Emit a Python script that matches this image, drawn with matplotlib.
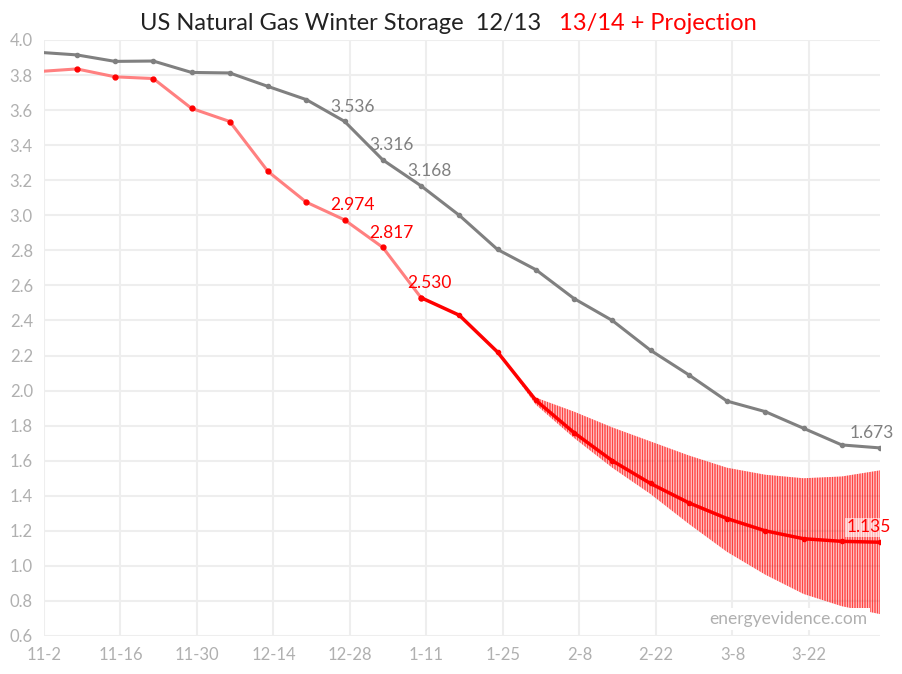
import numpy as np
import pandas as pd
import matplotlib
matplotlib.use("Agg")
import matplotlib.pyplot as plt

plt.rcParams['font.family'] = ['Lato', 'DejaVu Sans']
plt.rcParams['hatch.linewidth'] = 0.5

weeks = pd.date_range('2013-11-01', '2014-04-04', freq='7D')

prev_year = [3.93, 3.915, 3.878, 3.880, 3.815, 3.812, 3.735, 3.66, 3.536, 3.316, 3.168,
             3.00, 2.805, 2.69, 2.525, 2.40, 2.23, 2.09, 1.94, 1.88, 1.785, 1.69, 1.673]
actual = [3.82, 3.835, 3.79, 3.78, 3.61, 3.535, 3.25, 3.075, 2.974, 2.817, 2.530, 2.43]
projection = [2.43, 2.22, 1.945, 1.76, 1.60, 1.47, 1.36, 1.27, 1.20, 1.155, 1.14, 1.135]
band_upper = [2.22, 1.96, 1.88, 1.79, 1.71, 1.63, 1.56, 1.52, 1.50, 1.51, 1.545]
band_lower = [2.22, 1.92, 1.73, 1.56, 1.41, 1.24, 1.08, 0.95, 0.84, 0.77, 0.725]

prev_labels = {8: '3.536', 9: '3.316', 10: '3.168', 22: '1.673'}
act_labels = {8: '2.974', 9: '2.817', 10: '2.530'}

gray = '#808080'
red = '#ff0000'

fig = plt.figure(figsize=(9.02, 6.74), dpi=100)
ax = fig.add_axes([44/902, 38/674, 836/902, 596/674])

ax.fill_between(weeks[12:], band_lower, band_upper, facecolor=red, alpha=0.12,
                linewidth=0, zorder=1)
ax.fill_between(weeks[12:], band_lower, band_upper, facecolor='none', edgecolor=red,
                hatch='||||||||||', linewidth=0, zorder=1)
ax.plot(weeks, prev_year, color=gray, lw=2.2, marker='o', ms=3, zorder=3)
ax.plot(weeks[:11], actual[:11], color='#ff8080', lw=2.2, zorder=3)
ax.plot(weeks[:11], actual[:11], ls='none', marker='o', ms=3.5, color=red, zorder=4)
ax.plot(weeks[10:], [actual[10]] + projection, color=red, lw=2.5, marker='o', ms=3, zorder=4)

for i, t in prev_labels.items():
    dx = -22 if i == 22 else -10
    ax.annotate(t, (weeks[i], prev_year[i]), xytext=(dx, 7), textcoords='offset points',
                color=gray, fontsize=12.5, annotation_clip=False)
for i, t in act_labels.items():
    ax.annotate(t, (weeks[i], actual[i]), xytext=(-10, 7), textcoords='offset points',
                color=red, fontsize=12.5)
ax.annotate('1.135', (weeks[-1], projection[-1]), xytext=(-24, 7), textcoords='offset points',
            color=red, fontsize=12.5, annotation_clip=False,
            bbox=dict(fc='white', ec='none', alpha=0.6, pad=1))

ticks = pd.date_range('2013-11-02', '2014-03-22', freq='14D')
ax.set_xticks(ticks)
ax.set_xticklabels([f"{d.month}-{d.day}" for d in ticks])
ax.set_xlim(pd.Timestamp('2013-11-02'), weeks[-1])
ax.set_ylim(0.6, 4.0)
ax.set_yticks(np.arange(0.6, 4.01, 0.2))
ax.set_yticklabels([f"{v:.1f}" for v in np.arange(0.6, 4.01, 0.2)])
ax.grid(True, color='#eeeeee', lw=1.5)
ax.set_axisbelow(True)
for s in ax.spines.values():
    s.set_visible(False)
ax.tick_params(colors='#b0b0b0', labelsize=12, length=0, pad=8)

fig.text(0.62, 0.955, 'US Natural Gas Winter Storage  12/13   ', ha='right', fontsize=17,
         color='#222222')
fig.text(0.62, 0.955, '13/14 + Projection', ha='left', fontsize=17, color=red)
ax.text(0.985, 0.015, 'energyevidence.com', transform=ax.transAxes, ha='right', va='bottom',
        color='#b0b0b0', fontsize=12.5, bbox=dict(fc='white', ec='none', pad=2))

fig.savefig('out.png', dpi=100)
